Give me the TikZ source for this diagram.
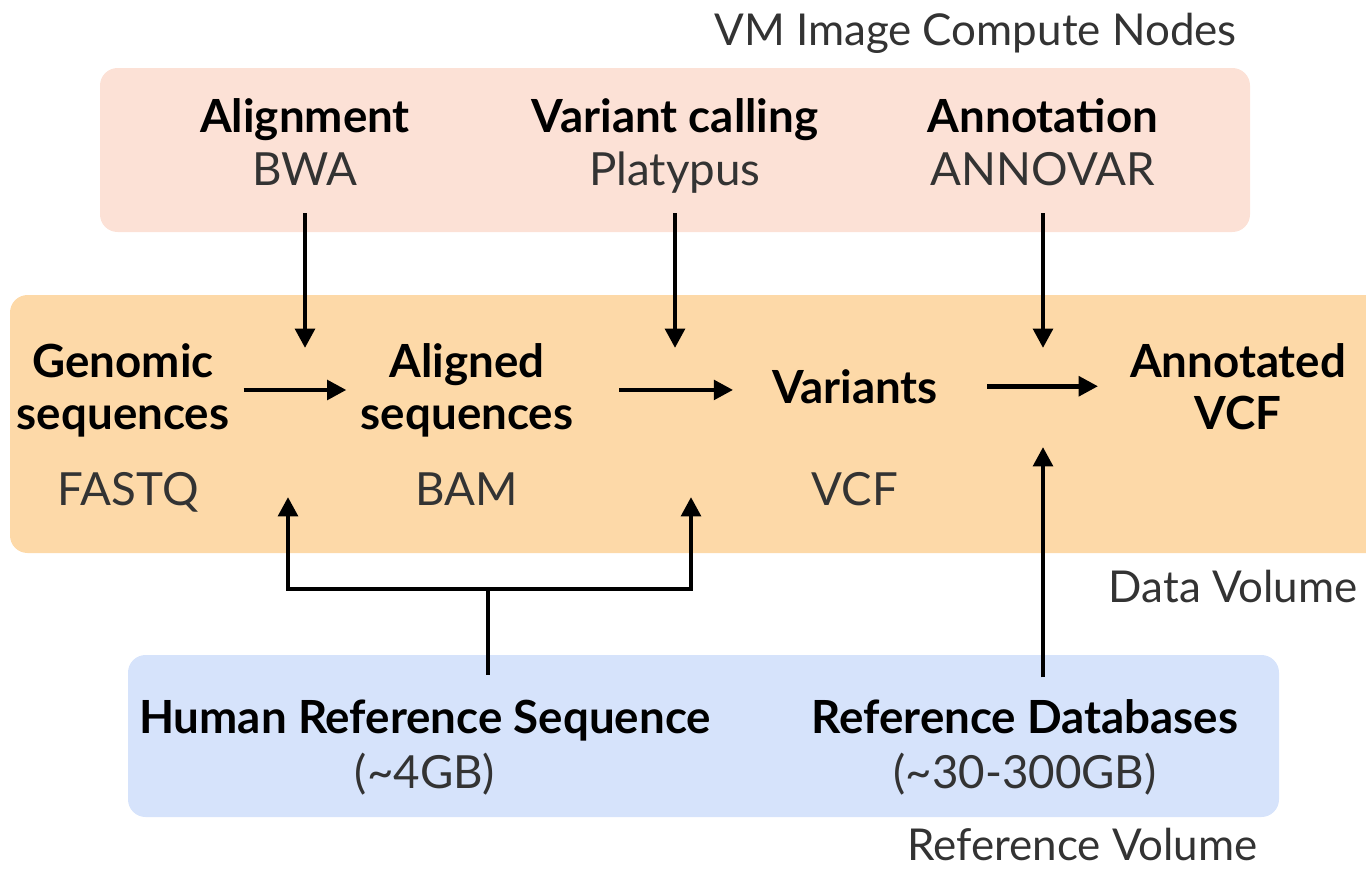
\documentclass[tikz,border=0pt]{standalone}
\usepackage{fontspec}
\setmainfont{Lato}
\usepackage{tikz}
\usepackage{xcolor}
\usetikzlibrary{arrows.meta, positioning}

\definecolor{computepink}{RGB}{252,225,214}
\definecolor{dataorange}{RGB}{253,217,168}
\definecolor{refblue}{RGB}{214,227,251}

\begin{document}
\begin{tikzpicture}[
    x=0.02cm, y=-0.02cm,
    panel/.style={rounded corners=10pt},
    stage/.style={
        align=center,
        inner sep=0pt,
        anchor=base,
        font=\fontsize{26}{30}\selectfont
    },
    datum/.style={
        align=center,
        inner sep=0pt,
        anchor=base,
        font=\fontsize{26}{29.5}\selectfont\bfseries
    },
    format/.style={
        inner sep=0pt,
        anchor=base,
        text=black!80,
        font=\fontsize{26}{30}\selectfont
    },
    volume/.style={
        inner sep=0pt,
        anchor=base east,
        text=black!80,
        font=\fontsize{25}{30}\selectfont
    },
    arrow/.style={-{Triangle[length=11pt,width=11pt]}, line width=2.6pt},
    link/.style={line width=2.6pt}
]
\useasboundingbox (0,0) rectangle (1366,869);

% volumes
\fill[panel, computepink] (100,68) rectangle (1250,232);
\fill[panel, dataorange] (10,295) rectangle (1390,553);
\fill[panel, refblue] (128,655) rectangle (1279,817);

\node[volume] (vmlabel) at (1237,45) {VM Image Compute Nodes};
\node[volume] (datalabel) at (1358,602) {Data Volume};
\node[volume] (reflabel) at (1258,860) {Reference Volume};

% compute steps (base = last line)
\node[stage] (alignment) at (305,185) {\textbf{Alignment}\\\textcolor{black!80}{BWA}};
\node[stage] (calling) at (675,185) {\textbf{Variant calling}\\\textcolor{black!80}{Platypus}};
\node[stage] (annotation) at (1043,185) {\textbf{Annotation}\\\textcolor{black!80}{ANNOVAR}};

% data files
\node[datum] (genomic) at (123,429) {Genomic\\sequences};
\node[datum] (aligned) at (467,429) {Aligned\\sequences};
\node[datum] (variants) at (855,403) {Variants};
\node[datum] (annotated) at (1238,429) {Annotated\\VCF};

\node[format] (fastq) at (128,505) {FASTQ};
\node[format] (bam) at (467,505) {BAM};
\node[format] (vcf) at (855,505) {VCF};

% reference data
\node[stage] (humanref) at (425,788) {\textbf{Human Reference Sequence}\\[1pt]\textcolor{black!80}{(\textasciitilde4GB)}};
\node[stage] (refdb) at (1025,788) {\textbf{Reference Databases}\\[1pt]\textcolor{black!80}{(\textasciitilde30-300GB)}};

\coordinate (hub) at (488,589);
\coordinate (fastqIn) at (288,497);
\coordinate (bamIn) at (691,497);

\draw[arrow] (alignment.south |- 0,213) -- (alignment.south |- 0,348);
\draw[arrow] (calling.south |- 0,213) -- (calling.south |- 0,348);
\draw[arrow] (annotation.south |- 0,213) -- (annotation.south |- 0,348);

\draw[arrow, shorten <=8pt, shorten >=8pt] (genomic.east) -- (genomic.east -| aligned.west);
\draw[arrow, shorten <=26pt, shorten >=22pt] (aligned.east) -- (aligned.east -| variants.west);
\draw[arrow, shorten <=28pt, shorten >=18pt] (variants.east) -- (variants.east -| annotated.west);

\draw[arrow] (humanref.north -| hub) ++(0,-25) -- (hub) -| (fastqIn);
\draw[arrow] (hub) -| (bamIn);
\draw[arrow] (refdb.north -| annotation.south) ++(0,-22) -- (annotation.south |- 0,447);

\end{tikzpicture}
\end{document}
